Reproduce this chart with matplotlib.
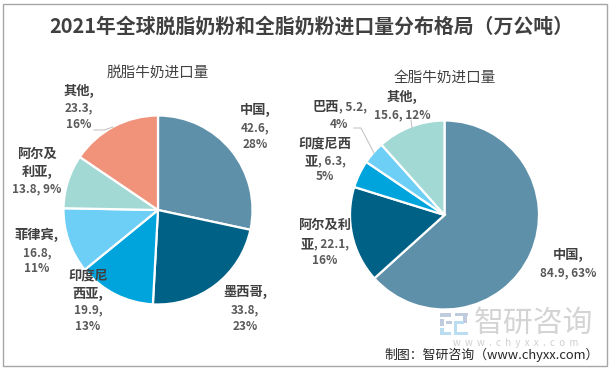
import matplotlib
matplotlib.use("Agg")
import matplotlib.pyplot as plt
from matplotlib.patches import Rectangle

plt.rcParams["font.family"] = ["Noto Sans CJK SC", "DejaVu Sans"]

W, H = 612, 372

skim_names = ["中国", "墨西哥", "印度尼西亚", "菲律宾", "阿尔及利亚", "其他"]
skim_values = [42.6, 33.8, 19.9, 16.8, 13.8, 23.3]
skim_colors = ["#5F90A9", "#006186", "#00A4DC", "#6DCFF6", "#A2D9D5", "#F0937A"]

whole_names = ["中国", "阿尔及利亚", "印度尼西亚", "巴西", "其他"]
whole_values = [84.9, 22.1, 6.3, 5.2, 15.6]
whole_colors = ["#5F90A9", "#006186", "#00A4DC", "#6DCFF6", "#A2D9D5"]

TITLE = "2021年全球脱脂奶粉和全脂奶粉进口量分布格局（万公吨）"
TEXT_DARK = "#404040"
NAME_SIZE = 9.5
VALUE_SIZE = 8.5


def draw_pie(fig, cx, cy, r, values, colors):
    ax = fig.add_axes([(cx - r) / W, 1 - (cy + r) / H, 2 * r / W, 2 * r / H])
    ax.pie(
        values,
        colors=colors,
        startangle=90,
        counterclock=False,
        radius=1.0,
        wedgeprops={"edgecolor": "white", "linewidth": 1.6},
    )
    ax.set_xlim(-1, 1)
    ax.set_ylim(-1, 1)
    ax.set_aspect("equal")
    ax.axis("off")


def label_line(ax, x, y, bold="", regular=""):
    # bold name and regular number can share a line, so centre them together
    parts = []
    if bold:
        parts.append(ax.text(x, y, bold, fontsize=NAME_SIZE, fontweight="bold",
                             color=TEXT_DARK, ha="left", va="center"))
    if regular:
        parts.append(ax.text(x, y, regular, fontsize=VALUE_SIZE, fontweight="bold",
                             color="#595959", ha="left", va="center"))
    renderer = ax.figure.canvas.get_renderer()
    widths = [p.get_window_extent(renderer).width for p in parts]
    left = x - sum(widths) / 2
    for part, width in zip(parts, widths):
        part.set_x(left)
        left += width


fig = plt.figure(figsize=(W / 100, H / 100), dpi=100)
draw_pie(fig, 158, 210, 94.5, skim_values, skim_colors)
draw_pie(fig, 444.5, 215, 94.5, whole_values, whole_colors)

overlay = fig.add_axes([0, 0, 1, 1], zorder=5)
overlay.set_xlim(0, W)
overlay.set_ylim(H, 0)
overlay.axis("off")
overlay.patch.set_alpha(0)

overlay.add_patch(Rectangle((2.5, 3.5), 604.5, 362.5, fill=False, edgecolor="#A6A6A6", linewidth=1))

overlay.text(311, 26, TITLE, fontsize=14.3, fontweight="bold", color=TEXT_DARK, ha="center", va="center")
overlay.text(158, 73, "脱脂牛奶进口量", fontsize=10.5, color="#404040", ha="center", va="center")
overlay.text(445, 78, "全脂牛奶进口量", fontsize=10.5, color="#404040", ha="center", va="center")

# left pie labels
label_line(overlay, 79, 91, "其他,")
label_line(overlay, 79, 108, "", "23.3,")
label_line(overlay, 79, 125, "", "16%")
label_line(overlay, 255, 110, "中国,")
label_line(overlay, 255, 128, "", "42.6,")
label_line(overlay, 255, 144, "", "28%")
label_line(overlay, 37, 154, "阿尔及")
label_line(overlay, 37, 172, "利亚,")
label_line(overlay, 37, 189, "", "13.8, 9%")
label_line(overlay, 37, 235, "菲律宾,")
label_line(overlay, 37, 253, "", "16.8,")
label_line(overlay, 37, 269, "", "11%")
label_line(overlay, 88, 275, "印度尼")
label_line(overlay, 88, 294, "西亚,")
label_line(overlay, 88, 310, "", "19.9,")
label_line(overlay, 88, 327, "", "13%")
label_line(overlay, 245, 292, "墨西哥,")
label_line(overlay, 245, 310, "", "33.8,")
label_line(overlay, 245, 326, "", "23%")

# right pie labels
label_line(overlay, 402, 97, "其他,")
label_line(overlay, 402, 115, "", "15.6, 12%")
label_line(overlay, 340, 107, "巴西", ", 5.2,")
label_line(overlay, 339, 124, "", "4%")
label_line(overlay, 325, 143, "印度尼西")
label_line(overlay, 325, 161, "亚", ", 6.3,")
label_line(overlay, 325, 177, "", "5%")
label_line(overlay, 325, 225, "阿尔及利")
label_line(overlay, 325, 244, "亚", ", 22.1,")
label_line(overlay, 325, 260, "", "16%")
label_line(overlay, 568, 255, "中国,")
label_line(overlay, 568, 273, "", "84.9, 63%")

# leader lines
overlay.plot([94, 104, 113], [130, 130, 127], color="#BFBFBF", lw=0.7)
overlay.plot([354, 361, 374], [128, 128, 153], color="#BFBFBF", lw=0.7)
overlay.plot([411, 412], [120, 128], color="#BFBFBF", lw=0.7)

# watermark
for x, y, w, h, c in [(440, 313, 11, 4, "#BFCCDD"), (440, 319, 4, 7, "#BFCCDD"), (446, 321, 6, 3, "#BFCCDD"),
                      (440, 328, 4, 7, "#BBDDF2"), (440, 332, 11, 3, "#BBDDF2"),
                      (455, 313, 13, 3, "#BFCCDD"), (463, 313, 4, 10, "#BFCCDD"), (455, 321, 9, 3, "#BBDDF2"),
                      (454, 321, 3, 14, "#BBDDF2"), (454, 332, 14, 3, "#BBDDF2")]:
    overlay.add_patch(Rectangle((x, y), w, h, facecolor=c, edgecolor="none"))
overlay.text(534, 323, "智研咨询", fontsize=21.5, color="#D4D4D4", ha="center", va="center")
overlay.text(516, 342.5, "w  w  w  .  c  h  y  x  x  .  c  o  m", fontsize=7, color="#CFCFCF", ha="center", va="center")

overlay.text(492, 354.5, "制图：智研咨询（www.chyxx.com）", fontsize=9.3, color="#262626", ha="center", va="center")

fig.savefig("out.png", dpi=100)
